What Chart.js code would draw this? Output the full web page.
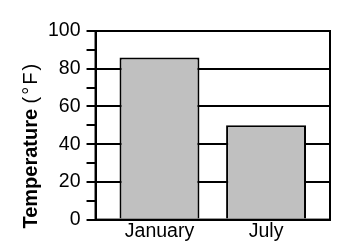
<!DOCTYPE html>
<html>
<head>
<meta charset="utf-8">
<script src="https://cdn.jsdelivr.net/npm/chart.js@4"></script>
<style>
  html, body { margin: 0; padding: 0; background: #fff; }
  #wrap { width: 348px; height: 252px; }
</style>
</head>
<body>
<div id="wrap"><canvas id="myChart" width="348" height="252"></canvas></div>
<script>
const months = ['January', 'July'];
const temps = [86, 50];
const yTickLabels = [0, 20, 40, 60, 80, 100];
const titleBold = 'Temperature ';
const titleUnit = '(°F)';

// frame round the plot area + y title (bold word, plain unit)
const frame = {
  id: 'frame',
  afterDraw(chart) {
    const a = chart.chartArea, c = chart.ctx;
    c.save();
    c.strokeStyle = '#000';
    c.lineWidth = 2;
    c.strokeRect(a.left, a.top, a.right - a.left, a.bottom - a.top);
    c.restore();

    c.save();
    c.translate(37, a.bottom + 9);
    c.rotate(-Math.PI / 2);
    c.fillStyle = '#000';
    c.textAlign = 'left';
    c.textBaseline = 'alphabetic';
    c.font = 'bold 20px "Liberation Sans"';
    c.fillText(titleBold, 0, 0);
    const w = c.measureText(titleBold).width;
    c.font = '20px "Liberation Sans"';
    c.letterSpacing = '2px';
    c.fillText(titleUnit, w, 0);
    c.restore();
  }
};

new Chart(document.getElementById('myChart'), {
  type: 'bar',
  data: {
    datasets: [{
      data: months.map((m, i) => ({ x: i, y: temps[i] })),
      backgroundColor: '#c0c0c0',
      borderColor: '#000',
      borderWidth: 2,
      categoryPercentage: 1,
      barPercentage: 0.75
    }]
  },
  options: {
    responsive: false,
    animation: false,
    devicePixelRatio: 1,
    layout: { padding: { top: 31, right: 18, bottom: 9, left: 42 } },
    plugins: { legend: { display: false }, tooltip: { enabled: false } },
    scales: {
      x: {
        type: 'linear',
        min: -0.6,
        max: 1.6,
        offset: false,
        grid: { display: false, drawTicks: false },
        border: { color: '#000', width: 2 },
        afterBuildTicks: s => { s.ticks = months.map((m, i) => ({ value: i })); },
        ticks: {
          color: '#000',
          padding: 0,
          font: { family: 'Liberation Sans', size: 19.5 },
          callback: v => months[v] ?? ''
        }
      },
      y: {
        min: 0,
        max: 100,
        border: { color: '#000', width: 2 },
        grid: {
          color: ctx => yTickLabels.includes(ctx.tick.value) ? '#000' : 'rgba(0,0,0,0)',
          tickColor: '#000',
          lineWidth: 2,
          tickLength: 9
        },
        ticks: {
          stepSize: 10,
          autoSkip: false,
          color: '#000',
          padding: 6,
          font: { family: 'Liberation Sans', size: 19.5 },
          callback: v => yTickLabels.includes(v) ? v : ''
        }
      }
    }
  },
  plugins: [frame]
});
</script>
</body>
</html>
